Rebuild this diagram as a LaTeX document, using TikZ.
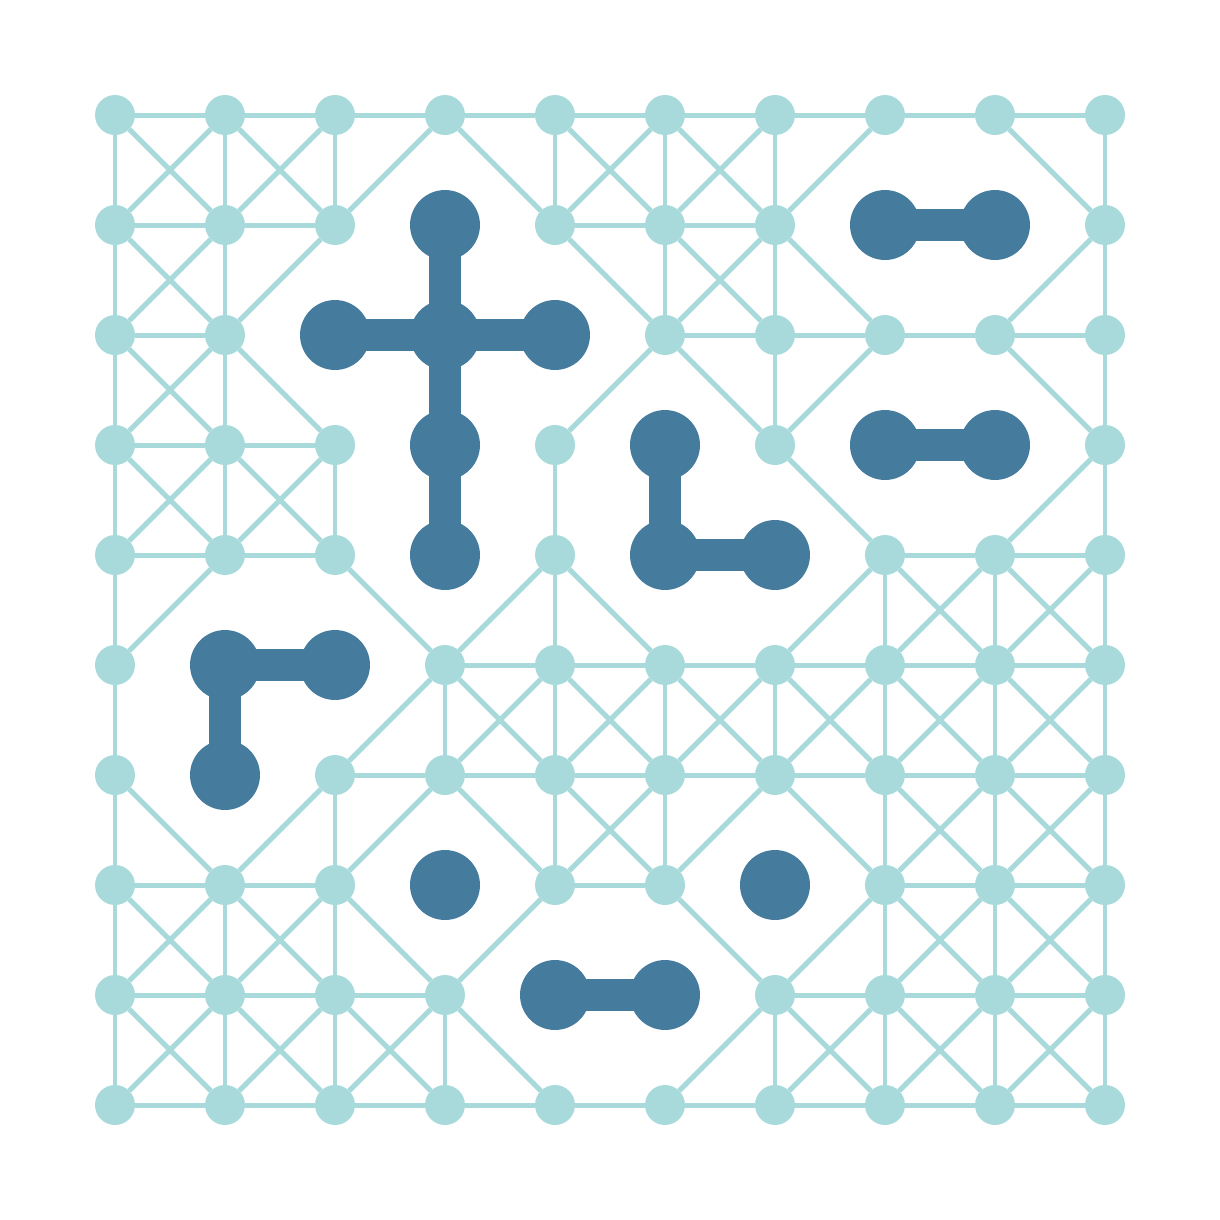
\documentclass[tikz,border=0pt]{standalone}
\usepackage{tikz}
\definecolor{lightc}{HTML}{A8DADC}
\definecolor{darkc}{HTML}{457B9D}

\begin{document}
\begin{tikzpicture}[x=10mm, y=10mm,
		lightdot/.style={circle, fill=lightc, minimum size=0.3636cm, inner sep=0pt, outer sep=0pt},
		darkdot/.style={circle, fill=darkc, minimum size=0.636cm, inner sep=0pt, outer sep=0pt},
		ledge/.style={draw=lightc, line width=1.29pt},
		dedge/.style={draw=darkc, line width=8.28pt}]
		% Bildbereich
		\useasboundingbox (-1.04545,-10.04545) rectangle (10.04545,1.04545);
		% dunkle Felder markieren
		\foreach \r/\c in {1/3,1/7,1/8,2/2,2/3,2/4,3/3,3/5,3/7,3/8,4/3,4/5,4/6,5/1,5/2,6/1,7/3,7/6,8/4,8/5}
			{\expandafter\gdef\csname dk\r-\c\endcsname{}}
		% Knoten zeichnen
		\foreach \r in {0,...,9}
			\foreach \c in {0,...,9}
				{\ifcsname dk\r-\c\endcsname
					\node[darkdot] (n-\r-\c) at (\c,-\r) {};
				\else
					\node[lightdot] (n-\r-\c) at (\c,-\r) {};
				\fi}
		% helle Kanten (Nachbarn auch diagonal)
		\foreach \r in {0,...,9}
			\foreach \c in {0,...,9}
				{\ifcsname dk\r-\c\endcsname\else
					\foreach \dr/\dc in {0/1,1/0,1/1,1/-1}
						{\pgfmathtruncatemacro\rr{\r+\dr}
						\pgfmathtruncatemacro\cc{\c+\dc}
						\ifnum\rr<10 \ifnum\cc>-1 \ifnum\cc<10
							\ifcsname dk\rr-\cc\endcsname\else
								\draw[ledge] (n-\r-\c) -- (n-\rr-\cc);
							\fi
						\fi\fi\fi}
				\fi}
		% dunkle Kanten (von Mitte zu Mitte)
		\foreach \a/\b in {1-3/2-3, 2-2/2-3, 2-3/2-4, 2-3/3-3, 3-3/4-3, 1-7/1-8, 3-7/3-8,
			3-5/4-5, 4-5/4-6, 5-1/5-2, 5-1/6-1, 8-4/8-5}
			\draw[dedge] (n-\a.center) -- (n-\b.center);
	\end{tikzpicture}
\end{document}
